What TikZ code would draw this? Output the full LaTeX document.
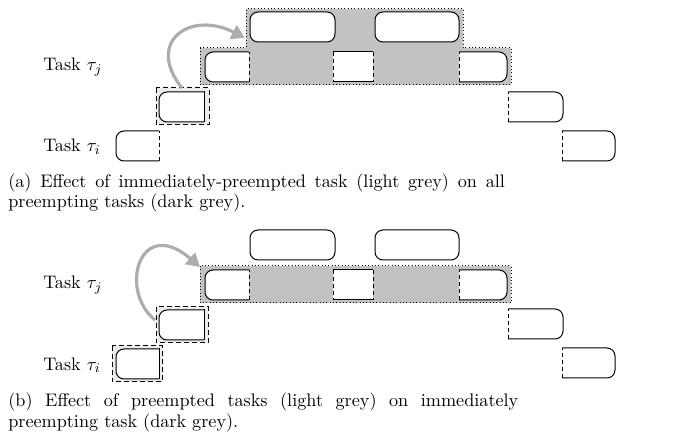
\documentclass[tikz,border=0pt]{standalone}
\usetikzlibrary{arrows.meta}
\definecolor{darkfill}{gray}{0.76}
\definecolor{lightfill}{gray}{0.92}
\definecolor{arrowgrey}{gray}{0.68}
\tikzset{
  boxline/.style={line width=0.6pt,draw=black},
  rc/.style={rounded corners=4.8pt},
  dashedge/.style={line width=0.6pt,draw=black,dash pattern=on 2.6pt off 1.6pt},
  dotline/.style={line width=0.6pt,draw=black,dash pattern=on 0.6pt off 1.4pt},
  hidash/.style={line width=0.6pt,draw=black,dash pattern=on 3pt off 1.8pt},
  darkzone/.style={dotline,fill=darkfill},
  lightzone/.style={hidash,fill=lightfill},
  effect/.style={line width=1.9pt,draw=arrowgrey,-{Triangle[length=8pt,width=9pt,fill=arrowgrey]}},
  lbl/.style={inner sep=0pt,anchor=base west,font=\fontsize{10.9}{13}\selectfont}
}
% left rounded, right dashed
\newcommand\boxRD[4]{%
  \fill[white,rc] (#3,#2) -- (#1,#2) -- (#1,#4) -- (#3,#4);
  \draw[boxline,rc] (#3,#2) -- (#1,#2) -- (#1,#4) -- (#3,#4);
  \draw[dashedge] (#3,#4) -- (#3,#2);}
% left rounded, right solid square
\newcommand\boxRS[4]{%
  \fill[white,rc] (#3,#2) -- (#1,#2) -- (#1,#4) -- (#3,#4);
  \draw[boxline,rc] (#3,#2) -- (#1,#2) -- (#1,#4) -- (#3,#4);
  \draw[boxline,line cap=rect] (#3,#4) -- (#3,#2);}
% left dashed, right rounded
\newcommand\boxDR[4]{%
  \fill[white,rc] (#1,#2) -- (#3,#2) -- (#3,#4) -- (#1,#4);
  \draw[boxline,rc] (#1,#2) -- (#3,#2) -- (#3,#4) -- (#1,#4);
  \draw[dashedge] (#1,#4) -- (#1,#2);}
% both sides dashed
\newcommand\boxDD[4]{%
  \fill[white] (#1,#2) rectangle (#3,#4);
  \draw[boxline] (#1,#2) -- (#3,#2) (#1,#4) -- (#3,#4);
  \draw[dashedge] (#1,#2) -- (#1,#4) (#3,#2) -- (#3,#4);}
% fully rounded
\newcommand\boxRR[4]{%
  \draw[boxline,rc,fill=white] (#1,#2) rectangle (#3,#4);}
\begin{document}
\begin{tikzpicture}[x=0.6pt,y=-0.6pt]
\useasboundingbox (0,0) rectangle (680,446);

% ================= panel (a) =================
\draw[darkzone] (200,48) -- (246,48) -- (246,9) -- (463,9) -- (463,48) -- (511,48) -- (511,85) -- (200,85) -- cycle;
\draw[lightzone] (156,88) rectangle (209,125);

\boxRR{250}{12}{335}{42}
\boxRR{375}{12}{459}{42}
\boxRD{205}{52}{249}{82}
\boxDD{333}{52}{373}{82}
\boxDR{459}{52}{507}{82}
\boxRS{159}{92}{204}{122}
\boxDR{508}{92}{563}{122}
\boxRD{116}{131}{159}{161}
\boxDR{562}{131}{615}{161}

\node[lbl] (tja) at (43,71) {Task $\tau_j$};
\node[lbl] (tia) at (43,152) {Task $\tau_i$};

\coordinate (aS) at (182,88);
\coordinate (aE) at (245,38);
\draw[effect] (aS) .. controls (145,42) and (190,10) .. (aE);

\node[lbl] (capa1) at (8,188) {\makebox[298pt][s]{(a) Effect of immediately-preempted task (light grey) on all}};
\node[lbl] (capa2) at (8,208) {preempting tasks (dark grey).};

% ================= panel (b) =================
\draw[darkzone] (200,266) rectangle (511,303);
\draw[lightzone] (112,346) rectangle (162,382);
\draw[lightzone] (156,307) rectangle (208,343);

\boxRR{250}{230}{335}{260}
\boxRR{375}{230}{459}{260}
\boxRD{205}{270}{249}{300}
\boxDD{333}{270}{373}{300}
\boxDR{459}{270}{507}{300}
\boxRS{159}{310}{204}{340}
\boxDR{508}{309}{563}{339}
\boxRS{116}{349}{159}{379}
\boxDR{562}{348}{615}{378}

\node[lbl] (tjb) at (43,289) {Task $\tau_j$};
\node[lbl] (tib) at (43,370) {Task $\tau_i$};

\coordinate (bS) at (155,320);
\coordinate (bE) at (200,267);
\draw[effect] (bS) .. controls (118,290) and (140,215) .. (bE);

\node[lbl] (capb1) at (8,407) {\makebox[306pt][s]{(b) Effect of preempted tasks (light grey) on immediately}};
\node[lbl] (capb2) at (8,427) {preempting task (dark grey).};
\end{tikzpicture}
\end{document}
